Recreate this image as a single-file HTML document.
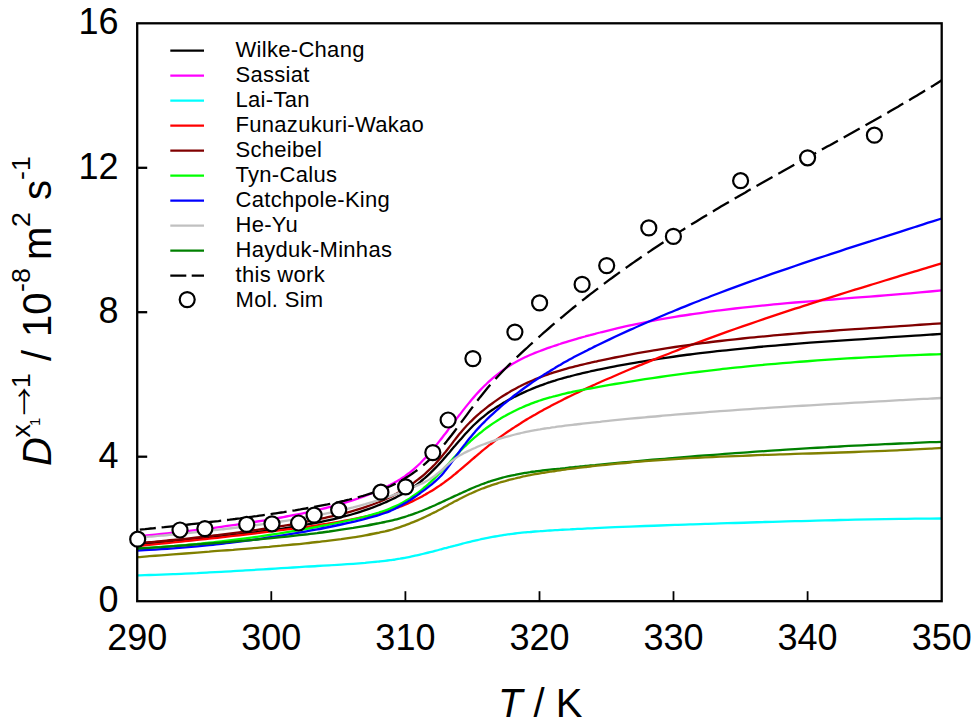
<!DOCTYPE html>
<html lang="en">
<head>
<meta charset="utf-8">
<title>Diffusion coefficient vs temperature</title>
<style>
html,body{margin:0;padding:0;background:#fff;}
body{width:974px;height:721px;overflow:hidden;}
svg{display:block;}
text{font-family:"Liberation Sans",Arial,Helvetica,sans-serif;fill:#000;}
.tick{font-size:36px;}
.leg{font-size:22px;letter-spacing:0.3px;}
.ax{font-size:40px;}
.sup{font-size:26.7px;}
.crv{fill:none;stroke-width:2.3;stroke-linejoin:round;}
</style>
</head>
<body>
<svg width="974" height="721" viewBox="0 0 974 721">
<rect x="0" y="0" width="974" height="721" fill="#ffffff"/>
<defs><clipPath id="plot"><rect x="137.2" y="23.3" width="804.5" height="577.9"/></clipPath></defs>
<g clip-path="url(#plot)">
<path class="crv" stroke="#000000" d="M137.2,544.5C139.2,544.4 145.2,543.8 149.2,543.5C153.2,543.1 157.2,542.8 161.2,542.4C165.2,542.0 169.2,541.7 173.2,541.3C177.2,540.9 181.2,540.5 185.2,540.1C189.2,539.7 193.2,539.3 197.2,538.9C201.2,538.5 205.2,538.1 209.2,537.7C213.2,537.3 217.2,536.8 221.2,536.4C225.2,536.0 229.2,535.5 233.2,535.0C237.2,534.6 241.2,534.1 245.2,533.6C249.2,533.1 253.2,532.6 257.2,532.1C261.2,531.6 265.2,531.1 269.2,530.5C273.2,530.0 277.2,529.4 281.2,528.8C285.2,528.2 289.2,527.6 293.2,527.0C297.2,526.3 301.2,525.6 305.2,524.9C309.2,524.2 313.2,523.5 317.2,522.7C321.2,521.9 325.2,521.0 329.2,520.1C333.2,519.2 337.2,518.3 341.2,517.3C345.2,516.2 349.2,515.2 353.2,514.0C357.2,512.8 361.2,511.6 365.2,510.2C369.2,508.8 374.7,506.7 377.2,505.7C379.7,504.8 378.7,505.1 380.0,504.6C381.3,504.0 383.3,503.2 385.0,502.5C386.7,501.7 388.3,501.0 390.0,500.2C391.7,499.5 393.3,498.7 395.0,497.9C396.7,497.0 398.3,496.2 400.0,495.3C401.7,494.4 403.3,493.5 405.0,492.5C406.7,491.5 408.3,490.5 410.0,489.4C411.7,488.3 413.3,487.1 415.0,485.9C416.7,484.7 418.3,483.4 420.0,482.1C421.7,480.7 423.3,479.3 425.0,477.9C426.7,476.4 428.3,474.9 430.0,473.3C431.7,471.7 433.3,470.1 435.0,468.4C436.7,466.7 438.3,464.9 440.0,463.1C441.7,461.3 443.3,459.4 445.0,457.5C446.7,455.6 448.3,453.6 450.0,451.7C451.7,449.7 453.3,447.7 455.0,445.8C456.7,443.8 458.3,441.9 460.0,440.0C461.7,438.1 463.3,436.2 465.0,434.3C466.7,432.5 468.3,430.7 470.0,429.0C471.7,427.3 473.3,425.6 475.0,424.0C476.7,422.4 478.3,420.9 480.0,419.4C481.7,418.0 483.3,416.6 485.0,415.3C486.7,414.0 488.3,412.7 490.0,411.5C491.7,410.4 493.3,409.2 495.0,408.1C496.7,407.1 498.3,406.0 500.0,405.0C501.7,404.0 503.3,403.0 505.0,402.1C506.7,401.1 508.3,400.2 510.0,399.3C511.7,398.4 513.3,397.5 515.0,396.6C516.7,395.8 518.3,395.0 520.0,394.2C521.7,393.4 523.3,392.6 525.0,391.9C526.7,391.1 528.3,390.4 530.0,389.7C531.7,389.0 533.3,388.3 535.0,387.6C536.7,387.0 538.3,386.3 540.0,385.7C541.7,385.1 543.3,384.5 545.0,383.9C546.7,383.3 548.3,382.7 550.0,382.2C551.7,381.6 553.3,381.1 555.0,380.6C556.7,380.0 558.3,379.5 560.0,379.0C561.7,378.6 563.3,378.1 565.0,377.6C566.7,377.2 568.3,376.7 570.0,376.3C571.7,375.8 573.3,375.4 575.0,375.0C576.7,374.6 578.3,374.2 580.0,373.8C581.7,373.4 583.3,373.0 585.0,372.6C586.7,372.2 588.3,371.9 590.0,371.5C591.7,371.1 593.3,370.8 595.0,370.4C596.7,370.1 596.7,370.1 600.0,369.4C603.3,368.7 610.0,367.4 615.0,366.4C620.0,365.5 625.0,364.5 630.0,363.7C635.0,362.8 640.0,361.9 645.0,361.1C650.0,360.3 655.0,359.5 660.0,358.7C665.0,358.0 670.0,357.2 675.0,356.5C680.0,355.8 685.0,355.1 690.0,354.5C695.0,353.8 700.0,353.2 705.0,352.6C710.0,352.0 715.0,351.4 720.0,350.9C725.0,350.3 730.0,349.8 735.0,349.3C740.0,348.8 745.0,348.3 750.0,347.8C755.0,347.3 760.0,346.8 765.0,346.4C770.0,345.9 775.0,345.5 780.0,345.1C785.0,344.7 790.0,344.3 795.0,343.9C800.0,343.5 805.0,343.1 810.0,342.7C815.0,342.4 820.0,342.0 825.0,341.7C830.0,341.3 835.0,341.0 840.0,340.6C845.0,340.3 850.0,339.9 855.0,339.6C860.0,339.3 865.0,339.0 870.0,338.6C875.0,338.3 880.0,338.0 885.0,337.7C890.0,337.3 895.0,337.0 900.0,336.7C905.0,336.4 910.0,336.0 915.0,335.7C920.0,335.4 925.5,335.0 930.0,334.7C934.5,334.4 939.8,334.0 941.7,333.9"/>
<path class="crv" stroke="#ff00ff" d="M137.2,536.4C139.2,536.2 145.2,535.6 149.2,535.2C153.2,534.8 157.2,534.4 161.2,534.0C165.2,533.6 169.2,533.1 173.2,532.7C177.2,532.2 181.2,531.8 185.2,531.3C189.2,530.8 193.2,530.4 197.2,529.9C201.2,529.4 205.2,528.9 209.2,528.4C213.2,527.8 217.2,527.3 221.2,526.8C225.2,526.2 229.2,525.7 233.2,525.1C237.2,524.6 241.2,524.0 245.2,523.4C249.2,522.8 253.2,522.2 257.2,521.5C261.2,520.9 265.2,520.2 269.2,519.6C273.2,518.9 277.2,518.2 281.2,517.5C285.2,516.8 289.2,516.0 293.2,515.2C297.2,514.5 301.2,513.7 305.2,512.8C309.2,512.0 313.2,511.1 317.2,510.2C321.2,509.2 325.2,508.3 329.2,507.2C333.2,506.2 337.2,505.1 341.2,503.9C345.2,502.8 349.2,501.6 353.2,500.2C357.2,498.9 361.2,497.5 365.2,496.0C369.2,494.4 374.7,492.1 377.2,491.0C379.7,490.0 378.7,490.4 380.0,489.8C381.3,489.2 383.3,488.3 385.0,487.5C386.7,486.7 388.3,485.8 390.0,485.0C391.7,484.1 393.3,483.3 395.0,482.3C396.7,481.4 398.3,480.4 400.0,479.4C401.7,478.3 403.3,477.2 405.0,476.1C406.7,474.9 408.3,473.6 410.0,472.3C411.7,471.0 413.3,469.6 415.0,468.1C416.7,466.6 418.3,465.1 420.0,463.5C421.7,461.8 423.3,460.1 425.0,458.3C426.7,456.5 428.3,454.6 430.0,452.7C431.7,450.7 433.3,448.7 435.0,446.7C436.7,444.7 438.3,442.6 440.0,440.4C441.7,438.3 443.3,436.1 445.0,434.0C446.7,431.8 448.3,429.6 450.0,427.4C451.7,425.2 453.3,423.0 455.0,420.8C456.7,418.6 458.3,416.4 460.0,414.3C461.7,412.1 463.3,410.0 465.0,407.9C466.7,405.8 468.3,403.7 470.0,401.7C471.7,399.7 473.3,397.7 475.0,395.9C476.7,394.0 478.3,392.2 480.0,390.4C481.7,388.6 483.3,387.0 485.0,385.3C486.7,383.7 488.3,382.1 490.0,380.6C491.7,379.1 493.3,377.7 495.0,376.3C496.7,374.9 498.3,373.6 500.0,372.4C501.7,371.1 503.3,369.9 505.0,368.7C506.7,367.6 508.3,366.5 510.0,365.5C511.7,364.4 513.3,363.4 515.0,362.5C516.7,361.5 518.3,360.6 520.0,359.8C521.7,358.9 523.3,358.1 525.0,357.3C526.7,356.5 528.3,355.7 530.0,355.0C531.7,354.3 533.3,353.6 535.0,352.9C536.7,352.2 538.3,351.6 540.0,351.0C541.7,350.3 543.3,349.7 545.0,349.1C546.7,348.5 548.3,347.9 550.0,347.3C551.7,346.8 553.3,346.2 555.0,345.6C556.7,345.1 558.3,344.5 560.0,344.0C561.7,343.4 563.3,342.9 565.0,342.4C566.7,341.9 568.3,341.3 570.0,340.8C571.7,340.3 573.3,339.8 575.0,339.3C576.7,338.8 578.3,338.4 580.0,337.9C581.7,337.4 583.3,336.9 585.0,336.5C586.7,336.0 588.3,335.5 590.0,335.1C591.7,334.6 593.3,334.2 595.0,333.8C596.7,333.3 596.7,333.3 600.0,332.5C603.3,331.6 610.0,330.0 615.0,328.8C620.0,327.6 625.0,326.5 630.0,325.4C635.0,324.3 640.0,323.3 645.0,322.3C650.0,321.3 655.0,320.3 660.0,319.4C665.0,318.5 670.0,317.7 675.0,316.8C680.0,316.0 685.0,315.2 690.0,314.5C695.0,313.7 700.0,313.0 705.0,312.3C710.0,311.6 715.0,310.9 720.0,310.3C725.0,309.7 730.0,309.1 735.0,308.5C740.0,307.9 745.0,307.4 750.0,306.8C755.0,306.3 760.0,305.8 765.0,305.3C770.0,304.8 775.0,304.3 780.0,303.9C785.0,303.4 790.0,303.0 795.0,302.5C800.0,302.1 805.0,301.7 810.0,301.3C815.0,300.9 820.0,300.5 825.0,300.1C830.0,299.7 835.0,299.3 840.0,298.9C845.0,298.5 850.0,298.1 855.0,297.7C860.0,297.3 865.0,297.0 870.0,296.6C875.0,296.2 880.0,295.8 885.0,295.4C890.0,295.0 895.0,294.6 900.0,294.2C905.0,293.7 910.0,293.3 915.0,292.9C920.0,292.4 925.5,291.9 930.0,291.5C934.5,291.1 939.8,290.6 941.7,290.4"/>
<path class="crv" stroke="#00ffff" d="M137.2,575.3C139.2,575.3 145.2,575.1 149.2,575.0C153.2,574.9 157.2,574.7 161.2,574.6C165.2,574.4 169.2,574.3 173.2,574.1C177.2,574.0 181.2,573.8 185.2,573.6C189.2,573.4 193.2,573.2 197.2,573.1C201.2,572.9 205.2,572.7 209.2,572.4C213.2,572.2 217.2,572.0 221.2,571.8C225.2,571.6 229.2,571.4 233.2,571.1C237.2,570.9 241.2,570.7 245.2,570.4C249.2,570.2 253.2,570.0 257.2,569.7C261.2,569.5 265.2,569.2 269.2,569.0C273.2,568.7 277.2,568.5 281.2,568.2C285.2,568.0 289.2,567.7 293.2,567.5C297.2,567.2 301.2,567.0 305.2,566.7C309.2,566.5 313.2,566.3 317.2,566.0C321.2,565.8 325.2,565.5 329.2,565.3C333.2,565.0 337.2,564.8 341.2,564.6C345.2,564.3 349.2,564.1 353.2,563.8C357.2,563.5 361.2,563.2 365.2,562.9C369.2,562.5 374.7,562.0 377.2,561.7C379.7,561.5 378.7,561.6 380.0,561.4C381.3,561.3 383.3,561.1 385.0,560.8C386.7,560.6 388.3,560.4 390.0,560.2C391.7,560.0 393.3,559.7 395.0,559.5C396.7,559.2 398.3,558.9 400.0,558.7C401.7,558.4 403.3,558.1 405.0,557.8C406.7,557.5 408.3,557.1 410.0,556.8C411.7,556.5 413.3,556.1 415.0,555.7C416.7,555.4 418.3,555.0 420.0,554.6C421.7,554.2 423.3,553.8 425.0,553.4C426.7,553.0 428.3,552.6 430.0,552.1C431.7,551.7 433.3,551.3 435.0,550.8C436.7,550.4 438.3,550.0 440.0,549.5C441.7,549.1 443.3,548.6 445.0,548.2C446.7,547.8 448.3,547.3 450.0,546.9C451.7,546.4 453.3,546.0 455.0,545.6C456.7,545.1 458.3,544.7 460.0,544.3C461.7,543.9 463.3,543.4 465.0,543.0C466.7,542.6 468.3,542.2 470.0,541.8C471.7,541.4 473.3,541.0 475.0,540.6C476.7,540.2 478.3,539.9 480.0,539.5C481.7,539.1 483.3,538.8 485.0,538.4C486.7,538.1 488.3,537.8 490.0,537.4C491.7,537.1 493.3,536.8 495.0,536.5C496.7,536.2 498.3,535.9 500.0,535.6C501.7,535.4 503.3,535.1 505.0,534.8C506.7,534.6 508.3,534.4 510.0,534.1C511.7,533.9 513.3,533.7 515.0,533.5C516.7,533.3 518.3,533.1 520.0,532.9C521.7,532.8 523.3,532.6 525.0,532.4C526.7,532.3 528.3,532.1 530.0,532.0C531.7,531.8 533.3,531.7 535.0,531.5C536.7,531.4 538.3,531.3 540.0,531.2C541.7,531.0 543.3,530.9 545.0,530.8C546.7,530.7 548.3,530.6 550.0,530.5C551.7,530.4 553.3,530.3 555.0,530.2C556.7,530.1 558.3,530.0 560.0,529.9C561.7,529.8 563.3,529.7 565.0,529.6C566.7,529.5 568.3,529.4 570.0,529.4C571.7,529.3 573.3,529.2 575.0,529.1C576.7,529.0 578.3,528.9 580.0,528.8C581.7,528.8 583.3,528.7 585.0,528.6C586.7,528.5 588.3,528.4 590.0,528.3C591.7,528.3 593.3,528.2 595.0,528.1C596.7,528.0 596.7,528.0 600.0,527.9C603.3,527.7 610.0,527.4 615.0,527.2C620.0,527.0 625.0,526.8 630.0,526.6C635.0,526.4 640.0,526.2 645.0,526.0C650.0,525.8 655.0,525.6 660.0,525.5C665.0,525.3 670.0,525.1 675.0,524.9C680.0,524.8 685.0,524.6 690.0,524.4C695.0,524.3 700.0,524.1 705.0,523.9C710.0,523.8 715.0,523.6 720.0,523.4C725.0,523.3 730.0,523.1 735.0,523.0C740.0,522.8 745.0,522.6 750.0,522.5C755.0,522.3 760.0,522.2 765.0,522.0C770.0,521.9 775.0,521.7 780.0,521.6C785.0,521.4 790.0,521.3 795.0,521.2C800.0,521.0 805.0,520.9 810.0,520.8C815.0,520.6 820.0,520.5 825.0,520.4C830.0,520.3 835.0,520.2 840.0,520.0C845.0,519.9 850.0,519.8 855.0,519.7C860.0,519.6 865.0,519.5 870.0,519.4C875.0,519.3 880.0,519.2 885.0,519.2C890.0,519.1 895.0,519.0 900.0,518.9C905.0,518.9 910.0,518.8 915.0,518.7C920.0,518.7 925.5,518.6 930.0,518.6C934.5,518.5 939.8,518.5 941.7,518.5"/>
<path class="crv" stroke="#ff0000" d="M137.2,546.0C139.2,545.8 145.2,545.2 149.2,544.8C153.2,544.4 157.2,544.0 161.2,543.6C165.2,543.2 169.2,542.8 173.2,542.4C177.2,541.9 181.2,541.5 185.2,541.1C189.2,540.7 193.2,540.3 197.2,539.9C201.2,539.4 205.2,539.0 209.2,538.6C213.2,538.1 217.2,537.7 221.2,537.3C225.2,536.8 229.2,536.4 233.2,535.9C237.2,535.5 241.2,535.0 245.2,534.6C249.2,534.1 253.2,533.6 257.2,533.2C261.2,532.7 265.2,532.2 269.2,531.7C273.2,531.2 277.2,530.7 281.2,530.2C285.2,529.7 289.2,529.2 293.2,528.7C297.2,528.1 301.2,527.6 305.2,527.0C309.2,526.5 313.2,525.9 317.2,525.3C321.2,524.7 325.2,524.1 329.2,523.4C333.2,522.8 337.2,522.1 341.2,521.4C345.2,520.7 349.2,520.0 353.2,519.2C357.2,518.4 361.2,517.6 365.2,516.7C369.2,515.8 374.7,514.4 377.2,513.8C379.7,513.2 378.7,513.4 380.0,513.0C381.3,512.7 383.3,512.2 385.0,511.7C386.7,511.2 388.3,510.7 390.0,510.2C391.7,509.6 393.3,509.1 395.0,508.5C396.7,507.9 398.3,507.3 400.0,506.6C401.7,506.0 403.3,505.3 405.0,504.6C406.7,503.9 408.3,503.2 410.0,502.4C411.7,501.7 413.3,500.9 415.0,500.0C416.7,499.2 418.3,498.4 420.0,497.5C421.7,496.6 423.3,495.7 425.0,494.8C426.7,493.8 428.3,492.8 430.0,491.8C431.7,490.8 433.3,489.8 435.0,488.7C436.7,487.6 438.3,486.5 440.0,485.4C441.7,484.2 443.3,483.1 445.0,481.8C446.7,480.6 448.3,479.4 450.0,478.1C451.7,476.8 453.3,475.4 455.0,474.1C456.7,472.7 458.3,471.3 460.0,469.9C461.7,468.5 463.3,467.1 465.0,465.6C466.7,464.2 468.3,462.8 470.0,461.3C471.7,459.9 473.3,458.4 475.0,457.0C476.7,455.6 478.3,454.1 480.0,452.8C481.7,451.4 483.3,450.0 485.0,448.6C486.7,447.3 488.3,446.0 490.0,444.7C491.7,443.4 493.3,442.1 495.0,440.8C496.7,439.6 498.3,438.4 500.0,437.1C501.7,435.9 503.3,434.8 505.0,433.6C506.7,432.4 508.3,431.3 510.0,430.2C511.7,429.1 513.3,428.0 515.0,426.9C516.7,425.8 518.3,424.7 520.0,423.7C521.7,422.6 523.3,421.6 525.0,420.6C526.7,419.6 528.3,418.6 530.0,417.6C531.7,416.6 533.3,415.6 535.0,414.7C536.7,413.7 538.3,412.8 540.0,411.8C541.7,410.9 543.3,410.0 545.0,409.1C546.7,408.2 548.3,407.3 550.0,406.4C551.7,405.5 553.3,404.6 555.0,403.7C556.7,402.9 558.3,402.0 560.0,401.2C561.7,400.3 563.3,399.5 565.0,398.6C566.7,397.8 568.3,397.0 570.0,396.2C571.7,395.4 573.3,394.6 575.0,393.8C576.7,393.0 578.3,392.2 580.0,391.4C581.7,390.6 583.3,389.8 585.0,389.0C586.7,388.3 588.3,387.5 590.0,386.7C591.7,386.0 593.3,385.2 595.0,384.5C596.7,383.7 596.7,383.7 600.0,382.2C603.3,380.8 610.0,377.8 615.0,375.7C620.0,373.5 625.0,371.4 630.0,369.3C635.0,367.2 640.0,365.1 645.0,363.1C650.0,361.1 655.0,359.0 660.0,357.1C665.0,355.1 670.0,353.1 675.0,351.2C680.0,349.2 685.0,347.3 690.0,345.4C695.0,343.6 700.0,341.7 705.0,339.8C710.0,338.0 715.0,336.2 720.0,334.4C725.0,332.6 730.0,330.8 735.0,329.0C740.0,327.3 745.0,325.5 750.0,323.8C755.0,322.1 760.0,320.4 765.0,318.7C770.0,317.0 775.0,315.3 780.0,313.6C785.0,312.0 790.0,310.3 795.0,308.7C800.0,307.1 805.0,305.5 810.0,303.8C815.0,302.2 820.0,300.6 825.0,299.1C830.0,297.5 835.0,295.9 840.0,294.3C845.0,292.8 850.0,291.2 855.0,289.7C860.0,288.1 865.0,286.6 870.0,285.1C875.0,283.5 880.0,282.0 885.0,280.5C890.0,279.0 895.0,277.5 900.0,275.9C905.0,274.4 910.0,272.9 915.0,271.4C920.0,269.9 925.5,268.3 930.0,266.9C934.5,265.6 939.8,264.0 941.7,263.4"/>
<path class="crv" stroke="#800000" d="M137.2,543.2C139.2,543.0 145.2,542.6 149.2,542.2C153.2,541.9 157.2,541.5 161.2,541.1C165.2,540.8 169.2,540.4 173.2,540.0C177.2,539.6 181.2,539.2 185.2,538.8C189.2,538.4 193.2,537.9 197.2,537.5C201.2,537.0 205.2,536.6 209.2,536.1C213.2,535.7 217.2,535.2 221.2,534.7C225.2,534.2 229.2,533.7 233.2,533.2C237.2,532.6 241.2,532.1 245.2,531.5C249.2,531.0 253.2,530.4 257.2,529.8C261.2,529.3 265.2,528.7 269.2,528.0C273.2,527.4 277.2,526.8 281.2,526.1C285.2,525.5 289.2,524.8 293.2,524.1C297.2,523.4 301.2,522.7 305.2,521.9C309.2,521.1 313.2,520.4 317.2,519.5C321.2,518.7 325.2,517.9 329.2,516.9C333.2,516.0 337.2,515.1 341.2,514.1C345.2,513.0 349.2,512.0 353.2,510.8C357.2,509.7 361.2,508.4 365.2,507.1C369.2,505.8 374.7,503.7 377.2,502.7C379.7,501.8 378.7,502.2 380.0,501.6C381.3,501.1 383.3,500.2 385.0,499.5C386.7,498.7 388.3,497.9 390.0,497.1C391.7,496.3 393.3,495.4 395.0,494.5C396.7,493.7 398.3,492.7 400.0,491.7C401.7,490.8 403.3,489.7 405.0,488.7C406.7,487.6 408.3,486.5 410.0,485.4C411.7,484.2 413.3,483.1 415.0,481.8C416.7,480.6 418.3,479.3 420.0,478.0C421.7,476.7 423.3,475.3 425.0,473.8C426.7,472.3 428.3,470.8 430.0,469.2C431.7,467.6 433.3,465.9 435.0,464.2C436.7,462.4 438.3,460.6 440.0,458.6C441.7,456.7 443.3,454.6 445.0,452.6C446.7,450.5 448.3,448.3 450.0,446.1C451.7,444.0 453.3,441.7 455.0,439.6C456.7,437.5 458.3,435.3 460.0,433.3C461.7,431.3 463.3,429.3 465.0,427.5C466.7,425.6 468.3,423.9 470.0,422.2C471.7,420.6 473.3,419.0 475.0,417.4C476.7,415.9 478.3,414.5 480.0,413.0C481.7,411.6 483.3,410.2 485.0,408.9C486.7,407.6 488.3,406.3 490.0,405.0C491.7,403.8 493.3,402.6 495.0,401.4C496.7,400.2 498.3,399.1 500.0,397.9C501.7,396.8 503.3,395.8 505.0,394.7C506.7,393.7 508.3,392.7 510.0,391.7C511.7,390.8 513.3,389.8 515.0,388.9C516.7,388.0 518.3,387.1 520.0,386.3C521.7,385.4 523.3,384.6 525.0,383.8C526.7,383.0 528.3,382.3 530.0,381.5C531.7,380.8 533.3,380.1 535.0,379.4C536.7,378.7 538.3,378.0 540.0,377.4C541.7,376.7 543.3,376.1 545.0,375.5C546.7,374.9 548.3,374.3 550.0,373.7C551.7,373.2 553.3,372.6 555.0,372.1C556.7,371.6 558.3,371.1 560.0,370.6C561.7,370.1 563.3,369.6 565.0,369.1C566.7,368.6 568.3,368.2 570.0,367.7C571.7,367.3 573.3,366.9 575.0,366.4C576.7,366.0 578.3,365.6 580.0,365.2C581.7,364.8 583.3,364.4 585.0,364.0C586.7,363.6 588.3,363.2 590.0,362.8C591.7,362.5 593.3,362.1 595.0,361.7C596.7,361.4 596.7,361.3 600.0,360.6C603.3,359.9 610.0,358.5 615.0,357.5C620.0,356.5 625.0,355.5 630.0,354.6C635.0,353.6 640.0,352.7 645.0,351.9C650.0,351.0 655.0,350.1 660.0,349.3C665.0,348.5 670.0,347.8 675.0,347.0C680.0,346.3 685.0,345.6 690.0,344.9C695.0,344.2 700.0,343.5 705.0,342.9C710.0,342.2 715.0,341.6 720.0,341.0C725.0,340.4 730.0,339.9 735.0,339.3C740.0,338.8 745.0,338.2 750.0,337.7C755.0,337.2 760.0,336.7 765.0,336.3C770.0,335.8 775.0,335.3 780.0,334.9C785.0,334.5 790.0,334.0 795.0,333.6C800.0,333.2 805.0,332.8 810.0,332.4C815.0,332.0 820.0,331.7 825.0,331.3C830.0,330.9 835.0,330.6 840.0,330.2C845.0,329.8 850.0,329.5 855.0,329.1C860.0,328.8 865.0,328.5 870.0,328.1C875.0,327.8 880.0,327.5 885.0,327.1C890.0,326.8 895.0,326.5 900.0,326.1C905.0,325.8 910.0,325.5 915.0,325.1C920.0,324.8 925.5,324.4 930.0,324.1C934.5,323.8 939.8,323.4 941.7,323.3"/>
<path class="crv" stroke="#00ff00" d="M137.2,548.5C139.2,548.4 145.2,548.0 149.2,547.8C153.2,547.5 157.2,547.3 161.2,547.0C165.2,546.7 169.2,546.4 173.2,546.1C177.2,545.8 181.2,545.4 185.2,545.1C189.2,544.7 193.2,544.3 197.2,544.0C201.2,543.6 205.2,543.2 209.2,542.7C213.2,542.3 217.2,541.9 221.2,541.4C225.2,540.9 229.2,540.5 233.2,540.0C237.2,539.5 241.2,538.9 245.2,538.4C249.2,537.9 253.2,537.3 257.2,536.8C261.2,536.2 265.2,535.6 269.2,535.0C273.2,534.4 277.2,533.8 281.2,533.1C285.2,532.5 289.2,531.8 293.2,531.2C297.2,530.5 301.2,529.8 305.2,529.1C309.2,528.4 313.2,527.6 317.2,526.9C321.2,526.1 325.2,525.4 329.2,524.6C333.2,523.7 337.2,522.9 341.2,522.1C345.2,521.2 349.2,520.3 353.2,519.4C357.2,518.5 361.2,517.5 365.2,516.5C369.2,515.4 374.7,513.8 377.2,513.1C379.7,512.4 378.7,512.6 380.0,512.2C381.3,511.8 383.3,511.1 385.0,510.5C386.7,509.9 388.3,509.3 390.0,508.6C391.7,507.9 393.3,507.2 395.0,506.4C396.7,505.7 398.3,504.8 400.0,504.0C401.7,503.1 403.3,502.2 405.0,501.2C406.7,500.2 408.3,499.2 410.0,498.2C411.7,497.1 413.3,496.0 415.0,494.8C416.7,493.6 418.3,492.4 420.0,491.1C421.7,489.8 423.3,488.4 425.0,487.0C426.7,485.6 428.3,484.1 430.0,482.6C431.7,481.0 433.3,479.4 435.0,477.8C436.7,476.1 438.3,474.4 440.0,472.7C441.7,470.9 443.3,469.2 445.0,467.4C446.7,465.6 448.3,463.8 450.0,462.0C451.7,460.2 453.3,458.3 455.0,456.6C456.7,454.8 458.3,453.0 460.0,451.3C461.7,449.6 463.3,448.0 465.0,446.3C466.7,444.7 468.3,443.2 470.0,441.6C471.7,440.1 473.3,438.6 475.0,437.2C476.7,435.8 478.3,434.4 480.0,433.0C481.7,431.7 483.3,430.4 485.0,429.1C486.7,427.9 488.3,426.7 490.0,425.5C491.7,424.3 493.3,423.2 495.0,422.1C496.7,421.0 498.3,420.0 500.0,418.9C501.7,417.9 503.3,416.9 505.0,416.0C506.7,415.0 508.3,414.1 510.0,413.2C511.7,412.4 513.3,411.5 515.0,410.7C516.7,409.9 518.3,409.1 520.0,408.3C521.7,407.6 523.3,406.8 525.0,406.1C526.7,405.4 528.3,404.8 530.0,404.1C531.7,403.5 533.3,402.8 535.0,402.2C536.7,401.6 538.3,401.1 540.0,400.5C541.7,400.0 543.3,399.4 545.0,398.9C546.7,398.4 548.3,397.9 550.0,397.4C551.7,397.0 553.3,396.5 555.0,396.1C556.7,395.6 558.3,395.2 560.0,394.8C561.7,394.4 563.3,394.0 565.0,393.6C566.7,393.2 568.3,392.8 570.0,392.5C571.7,392.1 573.3,391.7 575.0,391.4C576.7,391.1 578.3,390.7 580.0,390.4C581.7,390.1 583.3,389.7 585.0,389.4C586.7,389.1 588.3,388.8 590.0,388.5C591.7,388.2 593.3,387.9 595.0,387.6C596.7,387.3 596.7,387.3 600.0,386.7C603.3,386.1 610.0,384.9 615.0,384.0C620.0,383.2 625.0,382.4 630.0,381.6C635.0,380.8 640.0,380.0 645.0,379.2C650.0,378.5 655.0,377.7 660.0,377.0C665.0,376.3 670.0,375.6 675.0,374.9C680.0,374.2 685.0,373.6 690.0,372.9C695.0,372.3 700.0,371.7 705.0,371.1C710.0,370.5 715.0,369.9 720.0,369.3C725.0,368.7 730.0,368.2 735.0,367.7C740.0,367.1 745.0,366.6 750.0,366.1C755.0,365.6 760.0,365.2 765.0,364.7C770.0,364.2 775.0,363.8 780.0,363.4C785.0,362.9 790.0,362.5 795.0,362.1C800.0,361.7 805.0,361.3 810.0,361.0C815.0,360.6 820.0,360.3 825.0,359.9C830.0,359.6 835.0,359.2 840.0,358.9C845.0,358.6 850.0,358.3 855.0,358.0C860.0,357.7 865.0,357.5 870.0,357.2C875.0,356.9 880.0,356.7 885.0,356.4C890.0,356.2 895.0,355.9 900.0,355.7C905.0,355.5 910.0,355.3 915.0,355.1C920.0,354.9 925.5,354.7 930.0,354.5C934.5,354.4 939.8,354.2 941.7,354.1"/>
<path class="crv" stroke="#0000ff" d="M137.2,550.5C139.2,550.4 145.2,550.1 149.2,549.9C153.2,549.7 157.2,549.4 161.2,549.2C165.2,548.9 169.2,548.6 173.2,548.3C177.2,548.0 181.2,547.7 185.2,547.4C189.2,547.0 193.2,546.7 197.2,546.3C201.2,545.9 205.2,545.5 209.2,545.1C213.2,544.7 217.2,544.3 221.2,543.8C225.2,543.4 229.2,542.9 233.2,542.4C237.2,541.9 241.2,541.4 245.2,540.9C249.2,540.4 253.2,539.8 257.2,539.3C261.2,538.7 265.2,538.1 269.2,537.5C273.2,536.9 277.2,536.3 281.2,535.6C285.2,535.0 289.2,534.3 293.2,533.7C297.2,533.0 301.2,532.3 305.2,531.6C309.2,530.8 313.2,530.1 317.2,529.3C321.2,528.6 325.2,527.8 329.2,527.0C333.2,526.2 337.2,525.3 341.2,524.5C345.2,523.6 349.2,522.7 353.2,521.8C357.2,520.9 361.2,519.9 365.2,518.9C369.2,517.8 374.7,516.3 377.2,515.6C379.7,514.9 378.7,515.1 380.0,514.7C381.3,514.3 383.3,513.6 385.0,513.0C386.7,512.4 388.3,511.8 390.0,511.1C391.7,510.3 393.3,509.6 395.0,508.7C396.7,507.9 398.3,507.0 400.0,506.1C401.7,505.2 403.3,504.2 405.0,503.2C406.7,502.2 408.3,501.2 410.0,500.1C411.7,499.0 413.3,498.0 415.0,496.8C416.7,495.7 418.3,494.5 420.0,493.3C421.7,492.1 423.3,490.8 425.0,489.6C426.7,488.3 428.3,487.0 430.0,485.6C431.7,484.3 433.3,482.9 435.0,481.5C436.7,480.0 438.3,478.6 440.0,476.8C441.7,475.1 443.3,473.1 445.0,471.1C446.7,469.1 448.3,466.8 450.0,464.6C451.7,462.3 453.3,460.0 455.0,457.7C456.7,455.4 458.3,453.0 460.0,450.7C461.7,448.4 463.3,446.2 465.0,444.1C466.7,441.9 468.3,439.8 470.0,437.8C471.7,435.8 473.3,433.8 475.0,431.9C476.7,430.0 478.3,428.2 480.0,426.4C481.7,424.7 483.3,422.9 485.0,421.3C486.7,419.6 488.3,418.0 490.0,416.4C491.7,414.8 493.3,413.3 495.0,411.8C496.7,410.3 498.3,408.8 500.0,407.3C501.7,405.9 503.3,404.5 505.0,403.1C506.7,401.7 508.3,400.3 510.0,399.0C511.7,397.7 513.3,396.3 515.0,395.0C516.7,393.7 518.3,392.5 520.0,391.2C521.7,390.0 523.3,388.8 525.0,387.5C526.7,386.3 528.3,385.2 530.0,384.0C531.7,382.8 533.3,381.7 535.0,380.6C536.7,379.4 538.3,378.3 540.0,377.2C541.7,376.1 543.3,375.1 545.0,374.0C546.7,373.0 548.3,371.9 550.0,370.9C551.7,369.9 553.3,368.9 555.0,367.9C556.7,366.9 558.3,365.9 560.0,365.0C561.7,364.0 563.3,363.0 565.0,362.1C566.7,361.2 568.3,360.2 570.0,359.3C571.7,358.4 573.3,357.5 575.0,356.6C576.7,355.7 578.3,354.9 580.0,354.0C581.7,353.1 583.3,352.3 585.0,351.4C586.7,350.6 588.3,349.7 590.0,348.9C591.7,348.1 593.3,347.2 595.0,346.4C596.7,345.6 596.7,345.6 600.0,344.0C603.3,342.4 610.0,339.2 615.0,336.8C620.0,334.5 625.0,332.2 630.0,329.9C635.0,327.6 640.0,325.4 645.0,323.2C650.0,321.0 655.0,318.9 660.0,316.7C665.0,314.6 670.0,312.5 675.0,310.5C680.0,308.4 685.0,306.4 690.0,304.4C695.0,302.4 700.0,300.4 705.0,298.5C710.0,296.5 715.0,294.6 720.0,292.7C725.0,290.8 730.0,289.0 735.0,287.1C740.0,285.3 745.0,283.5 750.0,281.7C755.0,279.9 760.0,278.1 765.0,276.3C770.0,274.6 775.0,272.8 780.0,271.1C785.0,269.4 790.0,267.7 795.0,266.0C800.0,264.3 805.0,262.6 810.0,260.9C815.0,259.3 820.0,257.6 825.0,256.0C830.0,254.3 835.0,252.7 840.0,251.1C845.0,249.4 850.0,247.8 855.0,246.2C860.0,244.6 865.0,243.0 870.0,241.4C875.0,239.8 880.0,238.2 885.0,236.6C890.0,235.0 895.0,233.4 900.0,231.8C905.0,230.2 910.0,228.6 915.0,227.0C920.0,225.4 925.5,223.7 930.0,222.2C934.5,220.8 939.8,219.1 941.7,218.5"/>
<path class="crv" stroke="#c0c0c0" d="M137.2,537.8C139.2,537.6 145.2,537.1 149.2,536.7C153.2,536.4 157.2,536.0 161.2,535.6C165.2,535.3 169.2,534.9 173.2,534.5C177.2,534.1 181.2,533.7 185.2,533.3C189.2,532.9 193.2,532.5 197.2,532.1C201.2,531.7 205.2,531.2 209.2,530.8C213.2,530.4 217.2,529.9 221.2,529.4C225.2,529.0 229.2,528.5 233.2,528.0C237.2,527.5 241.2,527.0 245.2,526.5C249.2,526.0 253.2,525.5 257.2,525.0C261.2,524.4 265.2,523.9 269.2,523.3C273.2,522.7 277.2,522.1 281.2,521.5C285.2,520.9 289.2,520.2 293.2,519.6C297.2,518.9 301.2,518.2 305.2,517.5C309.2,516.8 313.2,516.1 317.2,515.3C321.2,514.5 325.2,513.7 329.2,512.9C333.2,512.1 337.2,511.2 341.2,510.3C345.2,509.3 349.2,508.4 353.2,507.4C357.2,506.3 361.2,505.3 365.2,504.2C369.2,503.0 374.7,501.4 377.2,500.6C379.7,499.9 378.7,500.1 380.0,499.7C381.3,499.3 383.3,498.6 385.0,498.1C386.7,497.5 388.3,496.9 390.0,496.3C391.7,495.7 393.3,495.1 395.0,494.5C396.7,493.9 398.3,493.2 400.0,492.6C401.7,491.9 403.3,491.3 405.0,490.6C406.7,490.0 408.3,489.3 410.0,488.6C411.7,487.9 413.3,487.2 415.0,486.5C416.7,485.8 418.3,485.1 420.0,484.3C421.7,483.6 423.3,482.8 425.0,481.9C426.7,481.1 428.3,480.2 430.0,479.1C431.7,478.1 433.3,477.0 435.0,475.7C436.7,474.5 438.3,473.0 440.0,471.6C441.7,470.2 443.3,468.7 445.0,467.2C446.7,465.7 448.3,464.2 450.0,462.7C451.7,461.3 453.3,459.9 455.0,458.6C456.7,457.4 458.3,456.3 460.0,455.3C461.7,454.3 463.3,453.5 465.0,452.6C466.7,451.8 468.3,451.0 470.0,450.2C471.7,449.4 473.3,448.7 475.0,448.0C476.7,447.2 478.3,446.5 480.0,445.8C481.7,445.1 483.3,444.5 485.0,443.8C486.7,443.2 488.3,442.6 490.0,442.0C491.7,441.4 493.3,440.8 495.0,440.3C496.7,439.7 498.3,439.2 500.0,438.7C501.7,438.2 503.3,437.7 505.0,437.2C506.7,436.7 508.3,436.2 510.0,435.8C511.7,435.3 513.3,434.9 515.0,434.5C516.7,434.1 518.3,433.7 520.0,433.3C521.7,432.9 523.3,432.6 525.0,432.2C526.7,431.9 528.3,431.5 530.0,431.2C531.7,430.9 533.3,430.5 535.0,430.2C536.7,429.9 538.3,429.6 540.0,429.4C541.7,429.1 543.3,428.8 545.0,428.5C546.7,428.3 548.3,428.0 550.0,427.8C551.7,427.5 553.3,427.3 555.0,427.1C556.7,426.8 558.3,426.6 560.0,426.4C561.7,426.2 563.3,425.9 565.0,425.7C566.7,425.5 568.3,425.3 570.0,425.1C571.7,424.9 573.3,424.7 575.0,424.5C576.7,424.3 578.3,424.2 580.0,424.0C581.7,423.8 583.3,423.6 585.0,423.4C586.7,423.2 588.3,423.0 590.0,422.8C591.7,422.7 593.3,422.5 595.0,422.3C596.7,422.1 596.7,422.1 600.0,421.8C603.3,421.4 610.0,420.7 615.0,420.2C620.0,419.7 625.0,419.2 630.0,418.7C635.0,418.2 640.0,417.8 645.0,417.3C650.0,416.8 655.0,416.4 660.0,416.0C665.0,415.5 670.0,415.1 675.0,414.7C680.0,414.3 685.0,413.9 690.0,413.5C695.0,413.1 700.0,412.7 705.0,412.3C710.0,411.9 715.0,411.5 720.0,411.2C725.0,410.8 730.0,410.4 735.0,410.1C740.0,409.7 745.0,409.4 750.0,409.1C755.0,408.7 760.0,408.4 765.0,408.1C770.0,407.7 775.0,407.4 780.0,407.1C785.0,406.8 790.0,406.5 795.0,406.2C800.0,405.9 805.0,405.6 810.0,405.3C815.0,405.0 820.0,404.7 825.0,404.4C830.0,404.1 835.0,403.8 840.0,403.6C845.0,403.3 850.0,403.0 855.0,402.7C860.0,402.4 865.0,402.2 870.0,401.9C875.0,401.6 880.0,401.3 885.0,401.1C890.0,400.8 895.0,400.5 900.0,400.2C905.0,400.0 910.0,399.7 915.0,399.4C920.0,399.2 925.5,398.8 930.0,398.6C934.5,398.4 939.8,398.1 941.7,398.0"/>
<path class="crv" stroke="#008000" d="M137.2,548.7C139.2,548.6 145.2,548.2 149.2,547.9C153.2,547.6 157.2,547.3 161.2,547.1C165.2,546.8 169.2,546.5 173.2,546.2C177.2,545.9 181.2,545.6 185.2,545.3C189.2,545.0 193.2,544.8 197.2,544.4C201.2,544.1 205.2,543.8 209.2,543.5C213.2,543.2 217.2,542.9 221.2,542.6C225.2,542.3 229.2,541.9 233.2,541.6C237.2,541.3 241.2,540.9 245.2,540.6C249.2,540.2 253.2,539.9 257.2,539.5C261.2,539.1 265.2,538.8 269.2,538.4C273.2,538.0 277.2,537.6 281.2,537.2C285.2,536.8 289.2,536.3 293.2,535.9C297.2,535.4 301.2,535.0 305.2,534.5C309.2,534.1 313.2,533.6 317.2,533.1C321.2,532.5 325.2,532.0 329.2,531.5C333.2,530.9 337.2,530.3 341.2,529.7C345.2,529.1 349.2,528.5 353.2,527.9C357.2,527.2 361.2,526.5 365.2,525.8C369.2,525.1 374.7,524.0 377.2,523.5C379.7,523.1 378.7,523.2 380.0,523.0C381.3,522.7 383.3,522.3 385.0,522.0C386.7,521.6 388.3,521.3 390.0,520.9C391.7,520.5 393.3,520.1 395.0,519.7C396.7,519.3 398.3,518.8 400.0,518.3C401.7,517.9 403.3,517.3 405.0,516.8C406.7,516.3 408.3,515.7 410.0,515.2C411.7,514.6 413.3,514.0 415.0,513.4C416.7,512.8 418.3,512.2 420.0,511.5C421.7,510.9 423.3,510.2 425.0,509.5C426.7,508.8 428.3,508.1 430.0,507.4C431.7,506.7 433.3,505.9 435.0,505.2C436.7,504.4 438.3,503.7 440.0,502.9C441.7,502.1 443.3,501.4 445.0,500.6C446.7,499.8 448.3,499.0 450.0,498.3C451.7,497.5 453.3,496.7 455.0,495.9C456.7,495.2 458.3,494.4 460.0,493.6C461.7,492.9 463.3,492.1 465.0,491.4C466.7,490.6 468.3,489.9 470.0,489.1C471.7,488.4 473.3,487.7 475.0,487.0C476.7,486.3 478.3,485.7 480.0,485.0C481.7,484.4 483.3,483.7 485.0,483.1C486.7,482.5 488.3,481.9 490.0,481.4C491.7,480.8 493.3,480.3 495.0,479.8C496.7,479.3 498.3,478.8 500.0,478.3C501.7,477.9 503.3,477.4 505.0,477.0C506.7,476.6 508.3,476.2 510.0,475.8C511.7,475.5 513.3,475.1 515.0,474.8C516.7,474.4 518.3,474.1 520.0,473.8C521.7,473.5 523.3,473.2 525.0,472.9C526.7,472.7 528.3,472.4 530.0,472.2C531.7,471.9 533.3,471.7 535.0,471.5C536.7,471.2 538.3,471.0 540.0,470.8C541.7,470.6 543.3,470.4 545.0,470.2C546.7,470.0 548.3,469.8 550.0,469.6C551.7,469.5 553.3,469.3 555.0,469.1C556.7,468.9 558.3,468.7 560.0,468.6C561.7,468.4 563.3,468.2 565.0,468.1C566.7,467.9 568.3,467.7 570.0,467.5C571.7,467.4 573.3,467.2 575.0,467.0C576.7,466.9 578.3,466.7 580.0,466.5C581.7,466.4 583.3,466.2 585.0,466.0C586.7,465.9 588.3,465.7 590.0,465.5C591.7,465.4 593.3,465.2 595.0,465.1C596.7,464.9 596.7,464.9 600.0,464.6C603.3,464.3 610.0,463.6 615.0,463.1C620.0,462.7 625.0,462.2 630.0,461.8C635.0,461.3 640.0,460.9 645.0,460.4C650.0,460.0 655.0,459.5 660.0,459.1C665.0,458.7 670.0,458.3 675.0,457.8C680.0,457.4 685.0,457.0 690.0,456.6C695.0,456.2 700.0,455.8 705.0,455.4C710.0,455.0 715.0,454.6 720.0,454.3C725.0,453.9 730.0,453.5 735.0,453.2C740.0,452.8 745.0,452.4 750.0,452.1C755.0,451.7 760.0,451.4 765.0,451.1C770.0,450.7 775.0,450.4 780.0,450.1C785.0,449.7 790.0,449.4 795.0,449.1C800.0,448.8 805.0,448.5 810.0,448.2C815.0,447.9 820.0,447.6 825.0,447.3C830.0,447.0 835.0,446.7 840.0,446.5C845.0,446.2 850.0,445.9 855.0,445.7C860.0,445.4 865.0,445.2 870.0,444.9C875.0,444.7 880.0,444.4 885.0,444.2C890.0,443.9 895.0,443.7 900.0,443.5C905.0,443.3 910.0,443.1 915.0,442.8C920.0,442.6 925.5,442.4 930.0,442.2C934.5,442.1 939.8,441.9 941.7,441.8"/>
<path class="crv" stroke="#808000" d="M137.2,557.1C139.2,557.0 145.2,556.5 149.2,556.2C153.2,555.9 157.2,555.6 161.2,555.3C165.2,555.0 169.2,554.7 173.2,554.4C177.2,554.1 181.2,553.8 185.2,553.5C189.2,553.2 193.2,552.9 197.2,552.6C201.2,552.3 205.2,552.0 209.2,551.7C213.2,551.3 217.2,551.0 221.2,550.7C225.2,550.4 229.2,550.1 233.2,549.8C237.2,549.4 241.2,549.1 245.2,548.8C249.2,548.5 253.2,548.1 257.2,547.8C261.2,547.4 265.2,547.1 269.2,546.8C273.2,546.4 277.2,546.0 281.2,545.7C285.2,545.3 289.2,544.9 293.2,544.5C297.2,544.2 301.2,543.8 305.2,543.3C309.2,542.9 313.2,542.5 317.2,542.0C321.2,541.6 325.2,541.1 329.2,540.6C333.2,540.1 337.2,539.6 341.2,539.1C345.2,538.5 349.2,537.9 353.2,537.3C357.2,536.7 361.2,536.0 365.2,535.3C369.2,534.6 374.7,533.5 377.2,533.0C379.7,532.5 378.7,532.7 380.0,532.4C381.3,532.2 383.3,531.7 385.0,531.4C386.7,531.0 388.3,530.6 390.0,530.1C391.7,529.7 393.3,529.2 395.0,528.7C396.7,528.2 398.3,527.7 400.0,527.1C401.7,526.5 403.3,525.9 405.0,525.3C406.7,524.7 408.3,524.0 410.0,523.4C411.7,522.7 413.3,522.1 415.0,521.4C416.7,520.7 418.3,520.0 420.0,519.2C421.7,518.5 423.3,517.8 425.0,517.0C426.7,516.2 428.3,515.4 430.0,514.6C431.7,513.8 433.3,512.9 435.0,512.1C436.7,511.2 438.3,510.3 440.0,509.5C441.7,508.6 443.3,507.7 445.0,506.8C446.7,505.9 448.3,504.9 450.0,504.0C451.7,503.1 453.3,502.2 455.0,501.3C456.7,500.5 458.3,499.6 460.0,498.7C461.7,497.9 463.3,497.0 465.0,496.2C466.7,495.4 468.3,494.6 470.0,493.8C471.7,493.1 473.3,492.3 475.0,491.6C476.7,490.9 478.3,490.2 480.0,489.5C481.7,488.9 483.3,488.2 485.0,487.6C486.7,487.0 488.3,486.4 490.0,485.8C491.7,485.2 493.3,484.6 495.0,484.1C496.7,483.6 498.3,483.0 500.0,482.5C501.7,482.0 503.3,481.5 505.0,481.1C506.7,480.6 508.3,480.2 510.0,479.7C511.7,479.3 513.3,478.9 515.0,478.5C516.7,478.0 518.3,477.7 520.0,477.3C521.7,476.9 523.3,476.5 525.0,476.2C526.7,475.8 528.3,475.5 530.0,475.2C531.7,474.8 533.3,474.5 535.0,474.2C536.7,473.9 538.3,473.6 540.0,473.3C541.7,473.0 543.3,472.8 545.0,472.5C546.7,472.2 548.3,472.0 550.0,471.7C551.7,471.5 553.3,471.2 555.0,471.0C556.7,470.7 558.3,470.5 560.0,470.3C561.7,470.0 563.3,469.8 565.0,469.6C566.7,469.3 568.3,469.1 570.0,468.9C571.7,468.7 573.3,468.5 575.0,468.3C576.7,468.1 578.3,467.9 580.0,467.6C581.7,467.4 583.3,467.2 585.0,467.0C586.7,466.8 588.3,466.7 590.0,466.5C591.7,466.3 593.3,466.1 595.0,465.9C596.7,465.7 596.7,465.7 600.0,465.4C603.3,465.0 610.0,464.3 615.0,463.8C620.0,463.3 625.0,462.9 630.0,462.5C635.0,462.0 640.0,461.6 645.0,461.2C650.0,460.8 655.0,460.5 660.0,460.1C665.0,459.8 670.0,459.4 675.0,459.1C680.0,458.8 685.0,458.5 690.0,458.2C695.0,457.9 700.0,457.7 705.0,457.4C710.0,457.2 715.0,456.9 720.0,456.7C725.0,456.5 730.0,456.3 735.0,456.1C740.0,455.9 745.0,455.7 750.0,455.5C755.0,455.3 760.0,455.1 765.0,454.9C770.0,454.8 775.0,454.6 780.0,454.4C785.0,454.3 790.0,454.1 795.0,453.9C800.0,453.8 805.0,453.6 810.0,453.5C815.0,453.3 820.0,453.1 825.0,453.0C830.0,452.8 835.0,452.6 840.0,452.5C845.0,452.3 850.0,452.1 855.0,452.0C860.0,451.8 865.0,451.6 870.0,451.4C875.0,451.2 880.0,451.0 885.0,450.8C890.0,450.6 895.0,450.4 900.0,450.1C905.0,449.9 910.0,449.6 915.0,449.4C920.0,449.1 925.5,448.8 930.0,448.6C934.5,448.3 939.8,448.0 941.7,447.8"/>
<path class="crv" stroke="#000000" d="M139.8,529.6 L142.5,529.3 L145.1,529.1 L147.8,528.8 L150.5,528.5 L153.1,528.3 L155.8,528.0 M161.6,527.4 L164.3,527.2 L166.9,526.9 L169.6,526.6 L172.3,526.3 L174.9,526.0 L177.6,525.8 M183.4,525.1 L186.1,524.8 L188.7,524.5 L191.4,524.2 L194.1,523.9 L196.7,523.6 L199.4,523.3 M205.2,522.7 L207.9,522.3 L210.5,522.0 L213.2,521.7 L215.9,521.4 L218.5,521.1 L221.2,520.7 M227.0,520.0 L229.7,519.7 L232.3,519.3 L235.0,519.0 L237.7,518.6 L240.3,518.3 L243.0,517.9 M248.8,517.2 L251.5,516.8 L254.1,516.4 L256.8,516.1 L259.5,515.7 L262.1,515.3 L264.8,514.9 M270.6,514.1 L273.3,513.7 L275.9,513.3 L278.6,512.9 L281.3,512.5 L283.9,512.1 L286.6,511.6 M292.4,510.7 L295.1,510.3 L297.7,509.8 L300.4,509.4 L303.1,508.9 L305.7,508.5 L308.4,508.0 M314.2,506.9 L316.9,506.4 L319.5,505.9 L322.2,505.4 L324.9,504.9 L327.5,504.4 L330.2,503.8 M336.0,502.6 L338.7,502.0 L341.3,501.4 L344.0,500.8 L346.7,500.1 L349.3,499.5 L352.0,498.8 M357.8,497.3 L360.5,496.5 L363.1,495.8 L365.8,495.0 L368.5,494.2 L371.1,493.3 L373.8,492.4 M379.6,490.4 L382.3,489.4 L384.9,488.4 L387.6,487.3 L390.3,486.2 L392.9,484.9 L395.6,483.6 M401.4,480.5 L404.1,479.0 L406.7,477.3 L409.4,475.6 L412.1,473.8 L414.7,471.9 L417.4,470.0 M423.2,465.3 L425.8,463.1 L428.5,460.7 L431.1,458.3 L433.7,455.7 L436.3,453.0 L439.0,450.2 M444.1,444.4 L446.6,441.4 L449.1,438.2 L451.7,435.0 L454.2,431.7 L456.7,428.4 M461.0,422.6 L464.0,418.6 L467.0,414.6 L469.9,410.6 L472.9,406.6 M477.3,400.8 L479.9,397.4 L482.5,394.2 L485.1,391.0 L487.7,387.8 L490.3,384.8 M495.5,379.0 L498.0,376.2 L500.6,373.5 L503.2,370.8 L505.7,368.2 L508.3,365.6 L510.9,363.0 M516.7,357.4 L519.4,354.9 L522.0,352.4 L524.7,349.9 L527.4,347.5 L530.0,345.0 L532.7,342.6 M538.5,337.4 L541.2,335.0 L543.8,332.7 L546.5,330.3 L549.2,328.0 L551.8,325.7 L554.5,323.4 M560.3,318.5 L563.0,316.3 L565.6,314.1 L568.3,311.9 L571.0,309.7 L573.6,307.5 L576.3,305.4 M582.1,300.7 L584.8,298.6 L587.4,296.5 L590.1,294.4 L592.8,292.4 L595.4,290.3 L598.1,288.3 M603.9,283.9 L606.6,281.9 L609.2,279.9 L611.9,278.0 L614.6,276.0 L617.2,274.1 L619.9,272.1 M625.7,268.0 L628.4,266.1 L631.0,264.2 L633.7,262.4 L636.4,260.5 L639.0,258.7 L641.7,256.8 M647.5,252.9 L650.2,251.1 L652.8,249.3 L655.5,247.5 L658.2,245.7 L660.8,244.0 L663.5,242.2 M669.3,238.5 L672.0,236.7 L674.6,235.0 L677.3,233.3 L680.0,231.6 L682.6,229.9 L685.3,228.3 M691.1,224.6 L693.8,223.0 L696.4,221.4 L699.1,219.7 L701.8,218.1 L704.4,216.5 L707.1,214.9 M712.9,211.4 L715.6,209.8 L718.2,208.2 L720.9,206.6 L723.6,205.0 L726.2,203.5 L728.9,201.9 M734.7,198.5 L737.4,197.0 L740.0,195.4 L742.7,193.9 L745.4,192.4 L748.0,190.8 L750.7,189.3 M756.5,186.0 L759.2,184.5 L761.8,183.0 L764.5,181.5 L767.2,180.0 L769.8,178.5 L772.5,177.0 M778.3,173.7 L781.0,172.3 L783.6,170.8 L786.3,169.3 L789.0,167.8 L791.6,166.3 L794.3,164.8 M800.1,161.6 L802.8,160.2 L805.4,158.7 L808.1,157.2 L810.8,155.7 L813.4,154.3 L816.1,152.8 M821.9,149.6 L824.6,148.1 L827.2,146.6 L829.9,145.2 L832.6,143.7 L835.2,142.2 L837.9,140.7 M843.7,137.5 L846.4,136.0 L849.0,134.5 L851.7,133.0 L854.4,131.5 L857.0,130.1 L859.7,128.6 M865.5,125.3 L868.2,123.8 L870.8,122.3 L873.5,120.8 L876.2,119.2 L878.8,117.7 L881.5,116.2 M887.3,112.9 L890.0,111.3 L892.6,109.8 L895.3,108.2 L898.0,106.7 L900.6,105.1 L903.3,103.6 M909.1,100.2 L911.8,98.6 L914.4,97.0 L917.1,95.4 L919.8,93.8 L922.4,92.2 L925.1,90.6 M930.9,87.0 L933.6,85.4 L936.3,83.7 L939.0,82.0 L941.7,80.3"/>
</g>
<rect x="137.2" y="23.3" width="804.5" height="577.9" fill="none" stroke="#000" stroke-width="2.3"/>
<line x1="271.3" y1="601.2" x2="271.3" y2="591.2" stroke="#000" stroke-width="1.8"/>
<line x1="405.4" y1="601.2" x2="405.4" y2="591.2" stroke="#000" stroke-width="1.8"/>
<line x1="539.5" y1="601.2" x2="539.5" y2="591.2" stroke="#000" stroke-width="1.8"/>
<line x1="673.5" y1="601.2" x2="673.5" y2="591.2" stroke="#000" stroke-width="1.8"/>
<line x1="807.6" y1="601.2" x2="807.6" y2="591.2" stroke="#000" stroke-width="1.8"/>
<line x1="137.2" y1="456.7" x2="147.2" y2="456.7" stroke="#000" stroke-width="2.3"/>
<line x1="137.2" y1="312.2" x2="147.2" y2="312.2" stroke="#000" stroke-width="2.3"/>
<line x1="137.2" y1="167.8" x2="147.2" y2="167.8" stroke="#000" stroke-width="2.3"/>
<circle cx="137.7" cy="539.2" r="7.5" fill="#fff" stroke="#000" stroke-width="2.2"/>
<circle cx="180.0" cy="530.0" r="7.5" fill="#fff" stroke="#000" stroke-width="2.2"/>
<circle cx="204.9" cy="528.6" r="7.5" fill="#fff" stroke="#000" stroke-width="2.2"/>
<circle cx="246.7" cy="524.4" r="7.5" fill="#fff" stroke="#000" stroke-width="2.2"/>
<circle cx="272.0" cy="523.8" r="7.5" fill="#fff" stroke="#000" stroke-width="2.2"/>
<circle cx="298.6" cy="523.0" r="7.5" fill="#fff" stroke="#000" stroke-width="2.2"/>
<circle cx="314.1" cy="515.1" r="7.5" fill="#fff" stroke="#000" stroke-width="2.2"/>
<circle cx="338.7" cy="509.9" r="7.5" fill="#fff" stroke="#000" stroke-width="2.2"/>
<circle cx="380.9" cy="492.2" r="7.5" fill="#fff" stroke="#000" stroke-width="2.2"/>
<circle cx="405.6" cy="486.9" r="7.5" fill="#fff" stroke="#000" stroke-width="2.2"/>
<circle cx="432.8" cy="452.6" r="7.5" fill="#fff" stroke="#000" stroke-width="2.2"/>
<circle cx="448.1" cy="420.0" r="7.5" fill="#fff" stroke="#000" stroke-width="2.2"/>
<circle cx="472.9" cy="358.6" r="7.5" fill="#fff" stroke="#000" stroke-width="2.2"/>
<circle cx="514.9" cy="332.1" r="7.5" fill="#fff" stroke="#000" stroke-width="2.2"/>
<circle cx="539.6" cy="302.9" r="7.5" fill="#fff" stroke="#000" stroke-width="2.2"/>
<circle cx="582.1" cy="284.4" r="7.5" fill="#fff" stroke="#000" stroke-width="2.2"/>
<circle cx="606.7" cy="265.6" r="7.5" fill="#fff" stroke="#000" stroke-width="2.2"/>
<circle cx="648.8" cy="227.9" r="7.5" fill="#fff" stroke="#000" stroke-width="2.2"/>
<circle cx="673.4" cy="236.4" r="7.5" fill="#fff" stroke="#000" stroke-width="2.2"/>
<circle cx="740.6" cy="180.7" r="7.5" fill="#fff" stroke="#000" stroke-width="2.2"/>
<circle cx="807.6" cy="157.8" r="7.5" fill="#fff" stroke="#000" stroke-width="2.2"/>
<circle cx="874.4" cy="135.2" r="7.5" fill="#fff" stroke="#000" stroke-width="2.2"/>
<text class="tick" x="137.2" y="650" text-anchor="middle">290</text>
<text class="tick" x="271.3" y="650" text-anchor="middle">300</text>
<text class="tick" x="405.4" y="650" text-anchor="middle">310</text>
<text class="tick" x="539.5" y="650" text-anchor="middle">320</text>
<text class="tick" x="673.5" y="650" text-anchor="middle">330</text>
<text class="tick" x="807.6" y="650" text-anchor="middle">340</text>
<text class="tick" x="941.7" y="650" text-anchor="middle">350</text>
<text class="tick" x="118.5" y="612.2" text-anchor="end">0</text>
<text class="tick" x="118.5" y="467.7" text-anchor="end">4</text>
<text class="tick" x="118.5" y="323.2" text-anchor="end">8</text>
<text class="tick" x="118.5" y="178.8" text-anchor="end">12</text>
<text class="tick" x="118.5" y="34.3" text-anchor="end">16</text>
<text class="ax" x="498" y="716.7" text-anchor="start"><tspan font-style="italic">T</tspan> / K</text>
<g transform="translate(50.8,466) rotate(-90)">
<text class="ax" x="0" y="0" font-style="italic">D</text>
<text class="sup" x="28.5" y="-20.5">x</text>
<text x="40" y="-11" font-size="15">1</text>
<text transform="translate(50.8,-18.1) scale(1.17,1)" font-size="24" style="font-family:'Noto Sans CJK JP','Liberation Sans',sans-serif">→</text>
<text class="sup" x="78" y="-20.5">1</text>
<text class="ax" x="105" y="0">/</text>
<text class="ax" x="129" y="0">10</text>
<text class="sup" x="174" y="-20.5">-8</text>
<text class="ax" x="206" y="0">m</text>
<text class="sup" x="239" y="-20.5">2</text>
<text class="ax" x="266" y="0">s</text>
<text class="sup" x="286" y="-20.5">-1</text>
</g>
<line x1="170.3" y1="50.6" x2="204" y2="50.6" stroke="#000000" stroke-width="2.4"/>
<text class="leg" x="235.5" y="56.8">Wilke-Chang</text>
<line x1="170.3" y1="75.6" x2="204" y2="75.6" stroke="#ff00ff" stroke-width="2.4"/>
<text class="leg" x="235.5" y="81.8">Sassiat</text>
<line x1="170.3" y1="100.6" x2="204" y2="100.6" stroke="#00ffff" stroke-width="2.4"/>
<text class="leg" x="235.5" y="106.8">Lai-Tan</text>
<line x1="170.3" y1="125.6" x2="204" y2="125.6" stroke="#ff0000" stroke-width="2.4"/>
<text class="leg" x="235.5" y="131.8">Funazukuri-Wakao</text>
<line x1="170.3" y1="150.6" x2="204" y2="150.6" stroke="#800000" stroke-width="2.4"/>
<text class="leg" x="235.5" y="156.8">Scheibel</text>
<line x1="170.3" y1="175.6" x2="204" y2="175.6" stroke="#00ff00" stroke-width="2.4"/>
<text class="leg" x="235.5" y="181.8">Tyn-Calus</text>
<line x1="170.3" y1="200.6" x2="204" y2="200.6" stroke="#0000ff" stroke-width="2.4"/>
<text class="leg" x="235.5" y="206.8">Catchpole-King</text>
<line x1="170.3" y1="225.6" x2="204" y2="225.6" stroke="#c0c0c0" stroke-width="2.4"/>
<text class="leg" x="235.5" y="231.8">He-Yu</text>
<line x1="170.3" y1="250.6" x2="204" y2="250.6" stroke="#008000" stroke-width="2.4"/>
<text class="leg" x="235.5" y="256.8">Hayduk-Minhas</text>
<line x1="170.3" y1="275.6" x2="204" y2="275.6" stroke="#000000" stroke-width="2.4" stroke-dasharray="16 5.4"/>
<text class="leg" x="235.5" y="281.8">this work</text>
<circle cx="187.2" cy="299.6" r="7.5" fill="#fff" stroke="#000" stroke-width="2.2"/>
<text class="leg" x="235.5" y="306.8">Mol. Sim</text>
</svg>
</body>
</html>
